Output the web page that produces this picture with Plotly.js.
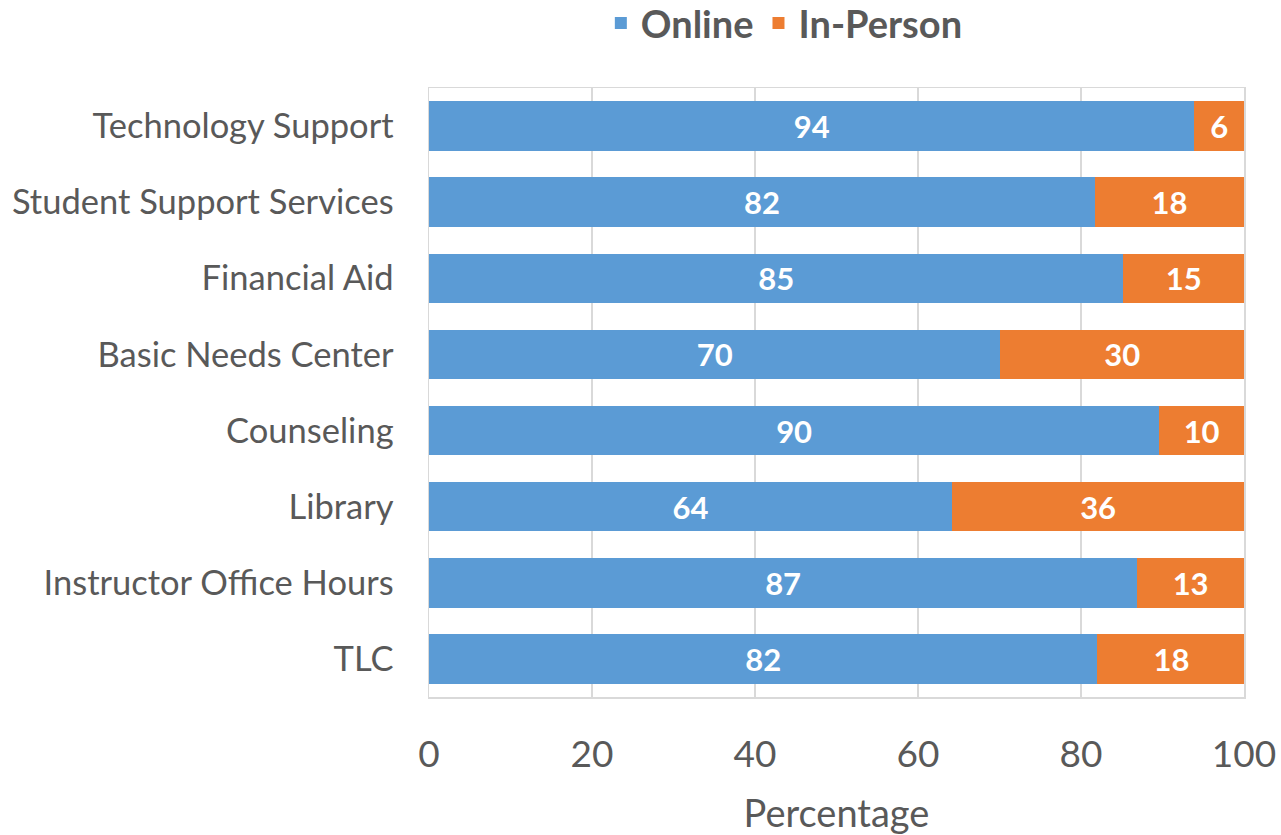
<!DOCTYPE html>
<html>
<head>
<meta charset="utf-8">
<script src="https://cdn.plot.ly/plotly-3.0.1.min.js"></script>
<style>html,body{margin:0;padding:0;background:#fff;}#chart{width:1281px;height:835px;}</style>
</head>
<body>
<div id="chart"></div>
<script>
const categories = ["Technology Support", "Student Support Services", "Financial Aid", "Basic Needs Center", "Counseling", "Library", "Instructor Office Hours", "TLC"];
const online = [93.9, 81.7, 85.2, 70.1, 89.6, 64.2, 86.9, 82.0];
const inPerson = [6.1, 18.3, 14.8, 29.9, 10.4, 35.8, 13.1, 18.2];
const xTicks = [0, 20, 40, 60, 80, 100];

const FONT = "Lato, 'Open Sans', sans-serif";
const GRAY = "#595959";

const common = {
  type: 'bar', orientation: 'h', y: categories,
  texttemplate: '%{x:.0f}', textposition: 'inside', insidetextanchor: 'middle',
  textangle: 0, constraintext: 'none',
  textfont: {family: FONT, size: 31, color: '#ffffff', weight: 'bold'},
  hoverinfo: 'skip'
};
const traces = [
  Object.assign({}, common, {name: 'Online', x: online, marker: {color: '#5B9BD5'}}),
  Object.assign({}, common, {name: 'In-Person', x: inPerson, marker: {color: '#ED7D31'}})
];

const layout = {
  width: 1281, height: 835,
  margin: {l: 429, r: 37, t: 88, b: 138, autoexpand: false},
  paper_bgcolor: '#fff', plot_bgcolor: '#fff',
  barmode: 'stack', bargap: 0.35,
  font: {family: FONT, color: GRAY},
  showlegend: true,
  legend: {
    orientation: 'h', x: 0.436, xanchor: 'center',
    yref: 'container', y: 0.972, yanchor: 'middle',
    font: {family: FONT, size: 38, color: GRAY, weight: 'bold'},
    traceorder: 'normal', itemwidth: 30
  },
  xaxis: {
    range: [0, 100], tickvals: xTicks, ticktext: xTicks.map(String),
    showgrid: true, gridcolor: '#d9d9d9', gridwidth: 1.5,
    showline: true, linecolor: '#d9d9d9', linewidth: 1.5, mirror: true,
    zeroline: false,
    ticks: 'outside', ticklen: 24, tickcolor: 'rgba(0,0,0,0)',
    tickfont: {family: FONT, size: 37, color: GRAY},
    title: {text: 'Percentage', font: {family: FONT, size: 38, color: GRAY}, standoff: 26},
    fixedrange: true
  },
  yaxis: {
    autorange: 'reversed',
    showline: true, linecolor: '#d9d9d9', linewidth: 1.5, mirror: true,
    showgrid: false,
    ticks: 'outside', ticklen: 27, tickcolor: 'rgba(0,0,0,0)',
    tickfont: {family: FONT, size: 34.5, color: GRAY},
    fixedrange: true
  }
};

Plotly.newPlot('chart', traces, layout, {displayModeBar: false, staticPlot: true});
</script>
</body>
</html>
